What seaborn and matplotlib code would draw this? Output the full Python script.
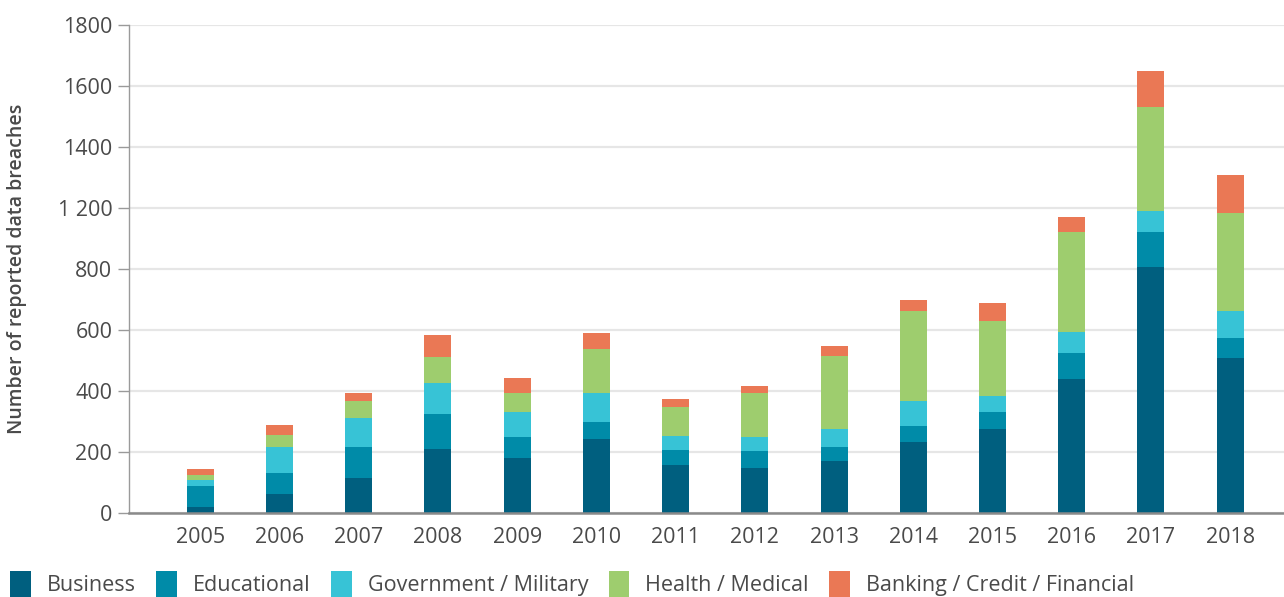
import numpy as np
import pandas as pd
import matplotlib
matplotlib.use("Agg")
import matplotlib.pyplot as plt
from matplotlib.patches import Patch
import seaborn as sns

years = ["2005", "2006", "2007", "2008", "2009", "2010", "2011",
         "2012", "2013", "2014", "2015", "2016", "2017", "2018"]
business = [21, 61, 116, 211, 179, 241, 159, 146, 172, 234, 277, 438, 805, 507]
educational = [66, 69, 99, 115, 69, 59, 49, 56, 46, 50, 53, 88, 115, 68]
government = [20, 88, 96, 99, 82, 92, 46, 46, 56, 82, 55, 66, 69, 86]
health = [16, 39, 55, 88, 62, 147, 92, 147, 242, 295, 243, 328, 341, 324]
banking = [20, 30, 29, 72, 52, 50, 29, 23, 30, 36, 62, 49, 118, 122]

series_names = ["Business", "Educational", "Government / Military",
                "Health / Medical", "Banking / Credit / Financial"]
series_values = [business, educational, government, health, banking]
colors = ["#005F7F", "#008BA8", "#37C3D6", "#9ECD6E", "#EA7855"]

ytick_values = [0, 200, 400, 600, 800, 1000, 1200, 1400, 1600]
ytick_labels = ["0", "200", "400", "600", "800", "1 200", "1400", "1600", "1800"]

sns.set_theme(style="white")
plt.rcParams["font.family"] = ["Open Sans", "DejaVu Sans"]

text_color = "#4a4a4a"

fig = plt.figure(figsize=(12.84, 5.97), dpi=100)
ax = fig.add_axes([129 / 1284, 1 - 513 / 597, 1 - 129 / 1284, (513 - 25) / 597])

df = pd.DataFrame({"year": years})
cum = np.cumsum(np.array(series_values), axis=0)
for i in range(len(series_names) - 1, -1, -1):
    df["v"] = cum[i]
    sns.barplot(data=df, x="year", y="v", color=colors[i], saturation=1,
                width=0.34, ax=ax, zorder=3, linewidth=0, errorbar=None)

ax.set_xlim(-0.9, 13.68)
ax.set_ylim(0, 1600)
ax.set_yticks(ytick_values)
ax.set_yticklabels(ytick_labels)
ax.grid(axis="y", color="#e6e6e6", linewidth=1.6, zorder=0)
ax.set_axisbelow(True)

for s in ["top", "right"]:
    ax.spines[s].set_visible(False)
ax.spines["left"].set_color("#9a9a9a")
ax.spines["left"].set_linewidth(1.0)
ax.spines["bottom"].set_color("#8a8a8a")
ax.spines["bottom"].set_linewidth(1.8)
ax.spines["bottom"].set_zorder(5)

ax.tick_params(axis="y", which="both", left=True, length=8, width=1,
               color="#9a9a9a", labelsize=15.5, labelcolor=text_color, pad=4)
ax.tick_params(axis="x", bottom=False, labelsize=15.5, labelcolor=text_color, pad=4)

ax.set_xlabel("")
ax.set_ylabel("Number of reported data breaches", fontsize=14, color=text_color,
              fontweight="semibold")
ax.yaxis.set_label_coords(-0.088, 0.5)

handles = [Patch(facecolor=c, edgecolor="none") for c in colors]
fig.legend(handles, series_names, loc="lower left", bbox_to_anchor=(-0.002, -0.022),
           ncol=5, frameon=False, fontsize=15.5, labelcolor=text_color,
           handlelength=0.95, handleheight=1.5, handletextpad=0.75,
           columnspacing=0.95, borderaxespad=0.2)

fig.savefig("out.png", dpi=100)
